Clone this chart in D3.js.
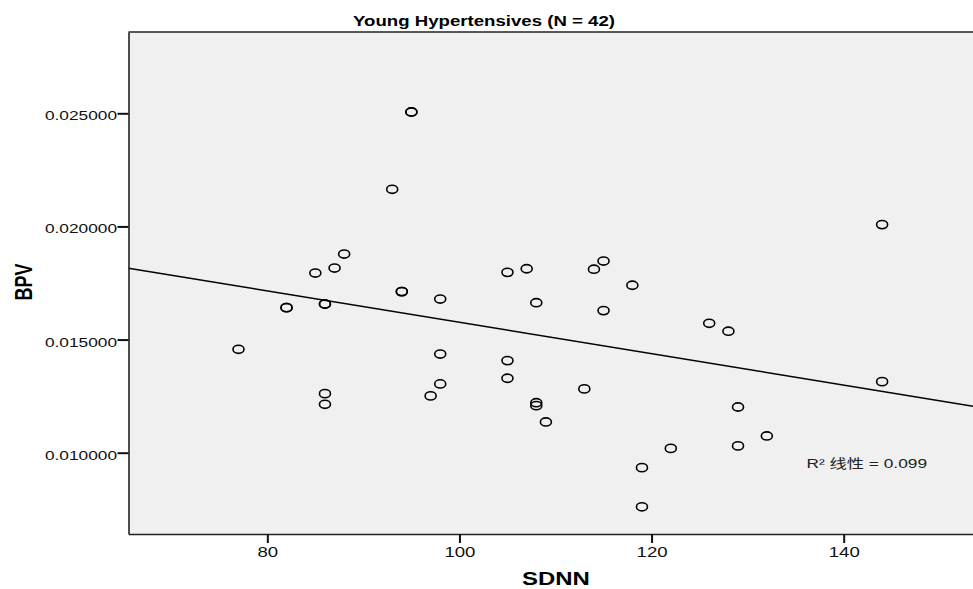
<!DOCTYPE html>
<html>
<head>
<meta charset="utf-8">
<script src="https://cdn.jsdelivr.net/npm/d3@7"></script>
<style>
	body { margin: 0; background: #fff; }
	svg { display: block; font-family: "Liberation Sans", Arial, sans-serif; }
</style>
</head>
<body>
<svg id="chart" width="973" height="589"></svg>
<script>
// SDNN (x) and BPV (y), one entry per subject
const sdnn = [77, 82, 82, 85, 87, 88, 86, 86, 86, 86, 93, 95, 95, 94, 94,
	98, 98, 98, 97, 105, 107, 108, 105, 105, 108, 108, 109, 113, 114, 115,
	115, 118, 119, 119, 122, 126, 128, 129, 129, 132, 144, 144]
const bpv = [0.01457, 0.01641, 0.01641, 0.01794, 0.01816, 0.01878, 0.01657, 0.01657, 0.01261, 0.01214, 0.02164, 0.02506, 0.02506, 0.01712, 0.01712,
	0.01679, 0.01436, 0.01304, 0.01251, 0.01797, 0.01813, 0.01663, 0.01407, 0.01329, 0.01221, 0.01208, 0.01136, 0.01282, 0.01811, 0.01847,
	0.01628, 0.0174, 0.00934, 0.00761, 0.01019, 0.01572, 0.01537, 0.01202, 0.0103, 0.01074, 0.02008, 0.01314]

const xTicks = [80, 100, 120, 140]
const yTicks = [0.010, 0.015, 0.020, 0.025]
const title = "Young Hypertensives (N = 42)"
const xTitle = "SDNN"
const yTitle = "BPV"
const fitLabel = "R² 线性 = 0.099"

// the source image is stretched sideways, so text gets the same stretch
const sx = 1.33

const svg = d3.select("#chart")
const plotLeft = 128.5, plotRight = 973, plotTop = 32, plotBottom = 534

const x = d3.scaleLinear().domain([65.55, 153.46]).range([plotLeft, plotRight])
const y = d3.scaleLinear().domain([0.006407, 0.028593]).range([plotBottom, plotTop])

svg.append("rect")
	.attr("x", plotLeft).attr("y", plotTop)
	.attr("width", plotRight - plotLeft + 10).attr("height", plotBottom - plotTop)
	.attr("fill", "#f0f0f0")

svg.append("line")
	.attr("x1", plotLeft).attr("x2", plotRight + 5)
	.attr("y1", plotTop).attr("y2", plotTop)
	.attr("stroke", "#222").attr("stroke-width", 1.5)

// least squares fit of the points
const mx = d3.mean(sdnn), my = d3.mean(bpv)
const sxy = d3.sum(sdnn, (v, i) => (v - mx) * (bpv[i] - my))
const sxx = d3.sum(sdnn, v => (v - mx) * (v - mx))
const slope = sxy / sxx
const intercept = my - slope * mx
const xd = x.domain()

svg.append("line")
	.attr("x1", x(xd[0])).attr("y1", y(intercept + slope * xd[0]))
	.attr("x2", x(xd[1])).attr("y2", y(intercept + slope * xd[1]))
	.attr("stroke", "#000").attr("stroke-width", 1.4)

svg.append("g")
	.selectAll("ellipse")
	.data(sdnn)
	.enter().append("ellipse")
		.attr("cx", d => x(d))
		.attr("cy", (d, i) => y(bpv[i]))
		.attr("rx", 5.5)
		.attr("ry", 4.1)
		.attr("fill", "none")
		.attr("stroke", "#000")
		.attr("stroke-width", 1.6)

const yAxis = svg.append("g")
	.attr("transform", `translate(${plotLeft}, 0)`)
	.call(d3.axisLeft(y).tickValues(yTicks).tickFormat(d3.format(".6f")).tickSize(11).tickSizeOuter(0).tickPadding(0))
const xAxis = svg.append("g")
	.attr("transform", `translate(0, ${plotBottom})`)
	.call(d3.axisBottom(x).tickValues(xTicks).tickFormat(d3.format("d")).tickSize(9).tickSizeOuter(0).tickPadding(4))

for (const axis of [xAxis, yAxis]) {
	axis.select(".domain").attr("stroke", "#222").attr("stroke-width", 1.6)
	axis.selectAll(".tick line").attr("stroke", "#111").attr("stroke-width", 2)
	axis.selectAll(".tick text")
		.attr("fill", "#111")
		.attr("font-family", "\"Liberation Sans\", Arial, sans-serif")
		.attr("transform", `scale(${sx}, 1)`)
}
yAxis.selectAll(".tick text")
	.attr("font-size", 13)
	.attr("x", -11.5 / sx)
	.attr("dy", "0.5em")
xAxis.selectAll(".tick text")
	.attr("font-size", 14)

svg.append("text")
	.attr("transform", `translate(484, 26) scale(${sx}, 1)`)
	.attr("text-anchor", "middle")
	.attr("font-size", 14)
	.attr("font-weight", "bold")
	.text(title)

svg.append("text")
	.attr("transform", `translate(556, 585) scale(${sx}, 1)`)
	.attr("text-anchor", "middle")
	.attr("font-size", 18)
	.attr("font-weight", "bold")
	.text(xTitle)

svg.append("text")
	.attr("transform", `translate(32, 282) scale(${sx}, 1) rotate(-90)`)
	.attr("text-anchor", "middle")
	.attr("font-size", 18)
	.attr("font-weight", "bold")
	.text(yTitle)

svg.append("text")
	.attr("transform", `translate(806.5, 468) scale(${sx}, 1)`)
	.attr("font-size", 13)
	.attr("font-family", "\"Liberation Sans\", \"Noto Sans CJK SC\", sans-serif")
	.attr("fill", "#222")
	.text(fitLabel)
</script>
</body>
</html>
